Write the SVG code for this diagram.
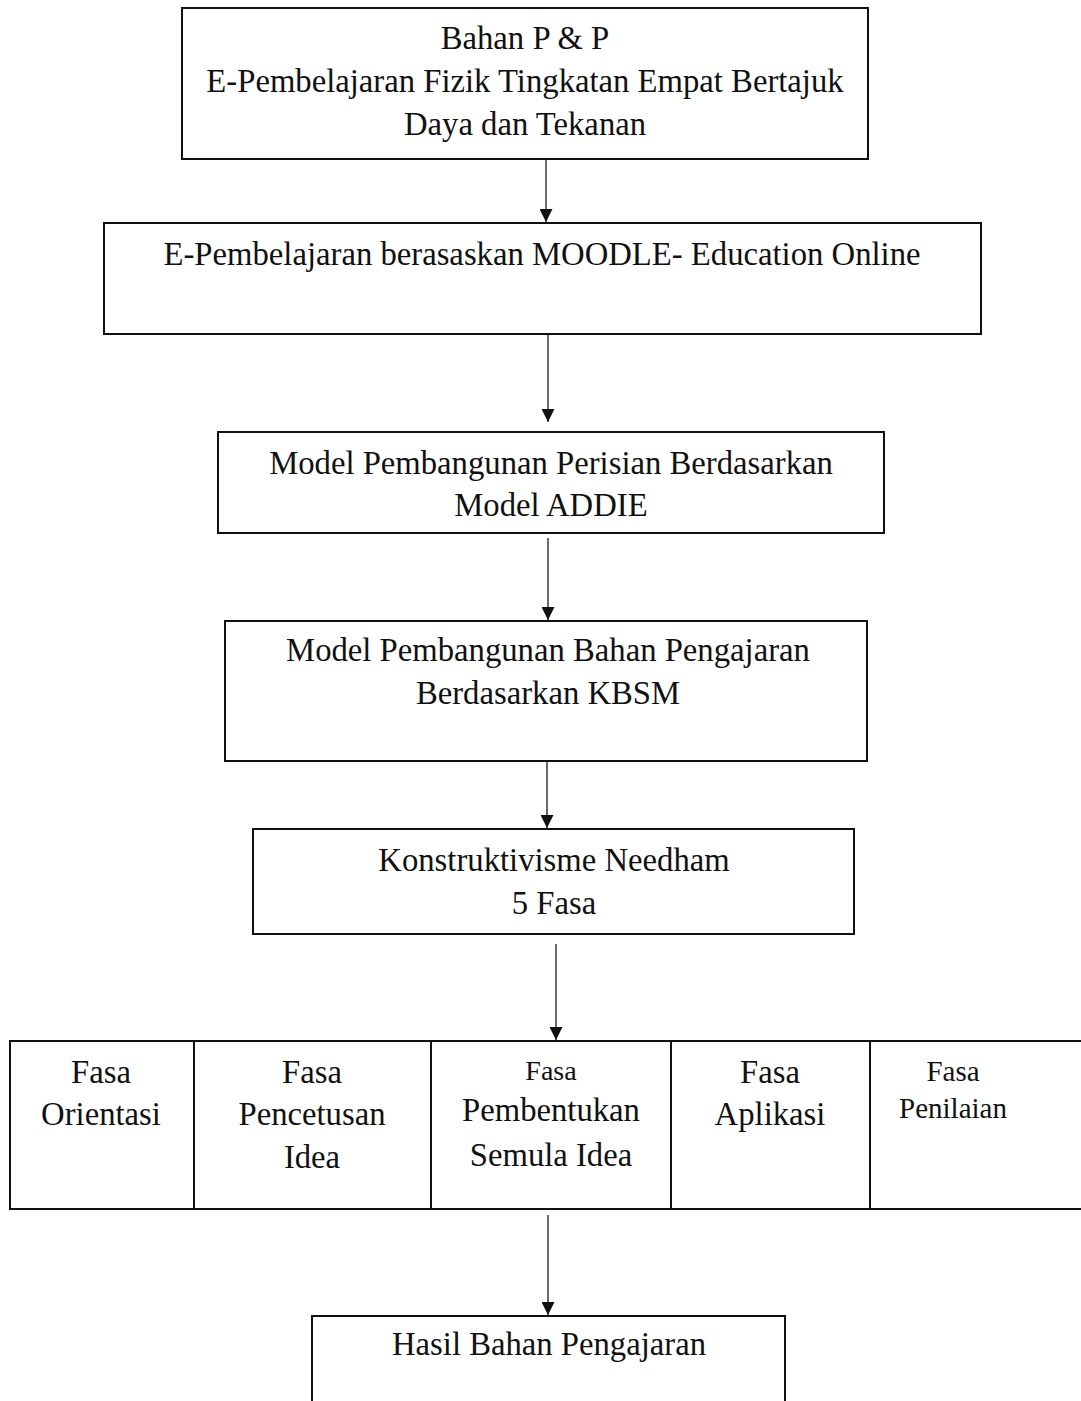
<svg xmlns="http://www.w3.org/2000/svg" width="1081" height="1401" viewBox="0 0 1081 1401">
<style>
.box{fill:#fff;stroke:#111;stroke-width:2}
.t{font-family:"Liberation Serif","Times New Roman",serif;font-size:32.7px;fill:#111;text-anchor:middle}
.s{font-size:28px}
.c{stroke:#444;stroke-width:1.6;fill:none;marker-end:url(#ah)}
</style>
<defs>
<marker id="ah" viewBox="0 0 10 10" refX="10" refY="5" markerWidth="13" markerHeight="13" markerUnits="userSpaceOnUse" orient="auto" preserveAspectRatio="none">
<path d="M0,0 L10,5 L0,10 z" fill="#111"/>
</marker>
</defs>
<rect width="1081" height="1401" fill="#fff"/>
<g id="connectors">
<line class="c" x1="546" y1="160" x2="546" y2="222"/>
<line class="c" x1="548" y1="335" x2="548" y2="422"/>
<line class="c" x1="548" y1="538" x2="548" y2="620"/>
<line class="c" x1="547" y1="762" x2="547" y2="828"/>
<line class="c" x1="556" y1="944" x2="556" y2="1040"/>
<line class="c" x1="548" y1="1215" x2="548" y2="1315"/>
</g>
<g id="n1">
<rect class="box" x="182" y="8" width="686" height="151"/>
<text class="t" x="525" y="49">Bahan P &amp; P</text>
<text class="t" x="525" y="92">E-Pembelajaran Fizik Tingkatan Empat Bertajuk</text>
<text class="t" x="525" y="135">Daya dan Tekanan</text>
</g>
<g id="n2">
<rect class="box" x="104" y="223" width="877" height="111"/>
<text class="t" x="542" y="265">E-Pembelajaran berasaskan MOODLE- Education Online</text>
</g>
<g id="n3">
<rect class="box" x="218" y="432" width="666" height="101"/>
<text class="t" x="551" y="474">Model Pembangunan Perisian Berdasarkan</text>
<text class="t" x="551" y="516">Model ADDIE</text>
</g>
<g id="n4">
<rect class="box" x="225" y="621" width="642" height="140"/>
<text class="t" x="548" y="661">Model Pembangunan Bahan Pengajaran</text>
<text class="t" x="548" y="704">Berdasarkan KBSM</text>
</g>
<g id="n5">
<rect class="box" x="253" y="829" width="601" height="105"/>
<text class="t" x="554" y="871">Konstruktivisme Needham</text>
<text class="t" x="554" y="914">5 Fasa</text>
</g>
<g id="n6">
<rect class="box" x="10" y="1041" width="184" height="168"/>
<text class="t" x="101" y="1083">Fasa</text>
<text class="t" x="101" y="1125">Orientasi</text>
</g>
<g id="n7">
<rect class="box" x="194" y="1041" width="237" height="168"/>
<text class="t" x="312" y="1083">Fasa</text>
<text class="t" x="312" y="1125">Pencetusan</text>
<text class="t" x="312" y="1168">Idea</text>
</g>
<g id="n8">
<rect class="box" x="431" y="1041" width="240" height="168"/>
<text class="t s" x="551" y="1080">Fasa</text>
<text class="t" x="551" y="1121">Pembentukan</text>
<text class="t" x="551" y="1166">Semula Idea</text>
</g>
<g id="n9">
<rect class="box" x="671" y="1041" width="199" height="168"/>
<text class="t" x="770" y="1083">Fasa</text>
<text class="t" x="770" y="1125">Aplikasi</text>
</g>
<g id="n10">
<rect class="box" x="870" y="1041" width="215" height="168"/>
<text class="t" x="953" y="1081" style="font-size:29px">Fasa</text>
<text class="t" x="953" y="1118" style="font-size:29px">Penilaian</text>
</g>
<g id="n11">
<rect class="box" x="312" y="1316" width="473" height="100"/>
<text class="t" x="549" y="1355">Hasil Bahan Pengajaran</text>
</g>
</svg>
